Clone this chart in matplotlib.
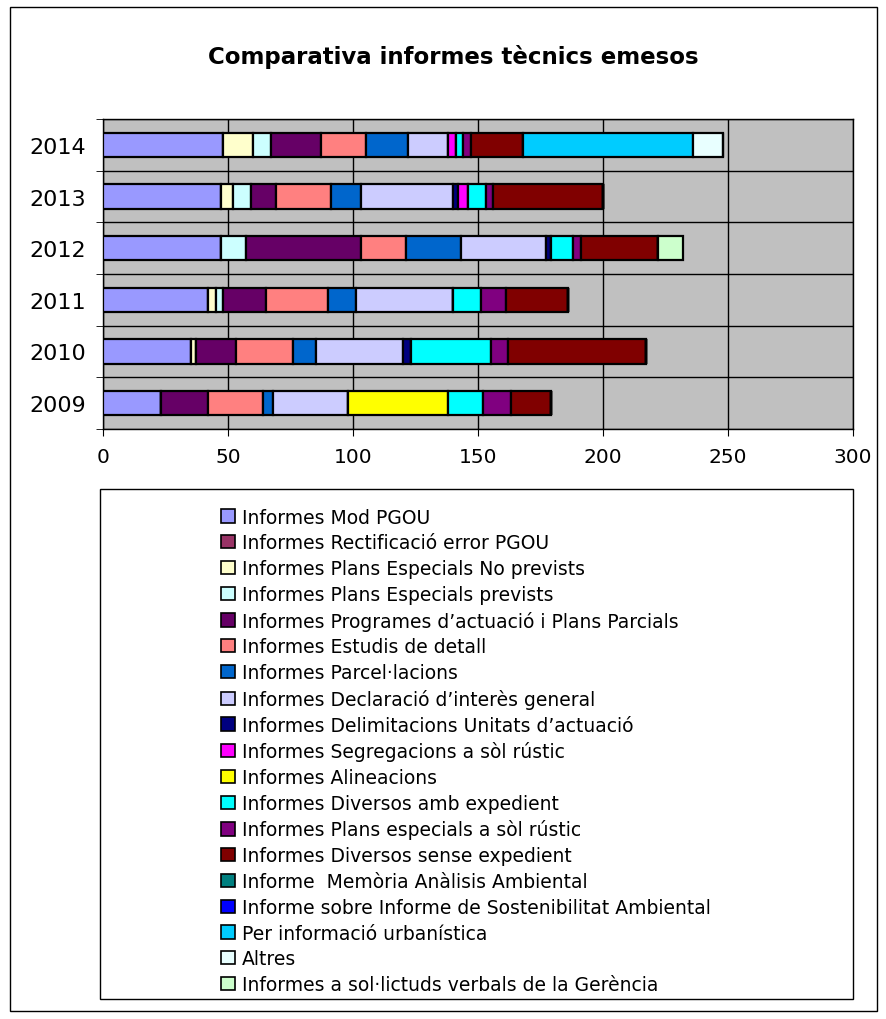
import numpy as np
from matplotlib import pyplot as plt
from matplotlib.patches import Rectangle, Patch

years = ['2009', '2010', '2011', '2012', '2013', '2014']

labels = [
    'Informes Mod PGOU',
    'Informes Rectificació error PGOU',
    'Informes Plans Especials No prevists',
    'Informes Plans Especials prevists',
    'Informes Programes d\u2019actuació i Plans Parcials',
    'Informes Estudis de detall',
    'Informes Parcel\u00b7lacions',
    'Informes Declaració d\u2019interès general',
    'Informes Delimitacions Unitats d\u2019actuació',
    'Informes Segregacions a sòl rústic',
    'Informes Alineacions',
    'Informes Diversos amb expedient',
    'Informes Plans especials a sòl rústic',
    'Informes Diversos sense expedient',
    'Informe  Memòria Anàlisis Ambiental',
    'Informe sobre Informe de Sostenibilitat Ambiental',
    'Per informació urbanística',
    'Altres',
    'Informes a sol\u00b7lictuds verbals de la Gerència',
]

colors = ['#9999FF', '#993366', '#FFFFCC', '#CCFFFF', '#660066', '#FF8080',
          '#0066CC', '#CCCCFF', '#000080', '#FF00FF', '#FFFF00', '#00FFFF',
          '#800080', '#800000', '#008080', '#0000FF', '#00CCFF', '#E8FFFF',
          '#CCFFCC']

# values per series, years 2009..2014
mod_pgou      = [23, 35, 42, 47, 47, 48]
rectificacio  = [0, 0, 0, 0, 0, 0]
no_prevists   = [0, 2, 3, 0, 5, 12]
prevists      = [0, 0, 3, 10, 7, 7]
programes     = [19, 16, 17, 46, 10, 20]
estudis       = [22, 23, 25, 18, 22, 18]
parcelacions  = [4, 9, 11, 22, 12, 17]
declaracio    = [30, 35, 39, 34, 37, 16]
delimitacions = [0, 3, 0, 2, 2, 0]
segregacions  = [0, 0, 0, 0, 4, 3]
alineacions   = [40, 0, 0, 0, 0, 0]
diversos_amb  = [14, 32, 11, 9, 7, 3]
plans_rustic  = [11, 7, 10, 3, 3, 3]
diversos_sense = [16, 55, 25, 31, 44, 21]
memoria       = [0, 0, 0, 0, 0, 0]
sostenibilitat = [0, 0, 0, 0, 0, 0]
per_informacio = [0, 0, 0, 0, 0, 68]
altres        = [0, 0, 0, 0, 0, 12]
verbals       = [0, 0, 0, 10, 0, 0]

series = [mod_pgou, rectificacio, no_prevists, prevists, programes, estudis,
          parcelacions, declaracio, delimitacions, segregacions, alineacions,
          diversos_amb, plans_rustic, diversos_sense, memoria, sostenibilitat,
          per_informacio, altres, verbals]

fig = plt.figure(figsize=(8.87, 10.20), dpi=100)
fig.patch.set_facecolor('white')

# outer frame
fig.add_artist(Rectangle((10/887, 1-1012/1020), 867/887, 1004/1020,
                         transform=fig.transFigure, fill=False,
                         edgecolor='black', linewidth=1))

fig.text(453/887, 1-57/1020, 'Comparativa informes tècnics emesos',
         ha='center', va='center', fontsize=16.5, fontweight='bold',
         family='DejaVu Sans')

ax = fig.add_axes([103/887, 1-430/1020, 750/887, 310/1020])
ax.set_facecolor('#C0C0C0')

y = np.arange(len(years))
left = np.zeros(len(years))
for vals, c in zip(series, colors):
    vals = np.array(vals, dtype=float)
    ax.barh(y, vals, left=left, height=0.47, color=c,
            edgecolor='black', linewidth=1.6, zorder=3)
    left += vals

ax.set_xlim(0, 300)
ax.set_ylim(-0.5, 5.5)
ax.set_xticks(np.arange(0, 301, 50))
ax.set_yticks(y)
ax.set_yticklabels(years)
ax.set_yticks(np.arange(-0.5, 5.6, 1), minor=True)
ax.tick_params(axis='y', which='major', length=0, pad=12, labelsize=16)
ax.tick_params(axis='y', which='minor', length=5, direction='out')
ax.tick_params(axis='x', length=5, direction='out', pad=8, labelsize=14.5)
ax.grid(axis='x', color='black', linewidth=1, zorder=1)
ax.grid(axis='y', which='minor', color='black', linewidth=1, zorder=1)
for s in ax.spines.values():
    s.set_linewidth(1)

# legend box
fig.add_artist(Rectangle((100/887, 1-1000/1020), 753/887, 510/1020,
                         transform=fig.transFigure, fill=True,
                         facecolor='white', edgecolor='black', linewidth=1))
handles = [Patch(facecolor=c, edgecolor='black', linewidth=1.2) for c in colors]
fig.legend(handles, labels, loc='upper left',
           bbox_to_anchor=(214/887, 1-501/1020), frameon=False,
           prop={'family': 'DejaVu Sans', 'size': 13.5},
           handlelength=0.7, handleheight=0.7, handletextpad=0.4,
           labelspacing=0.36, borderaxespad=0)

plt.savefig('out.png', dpi=100)
